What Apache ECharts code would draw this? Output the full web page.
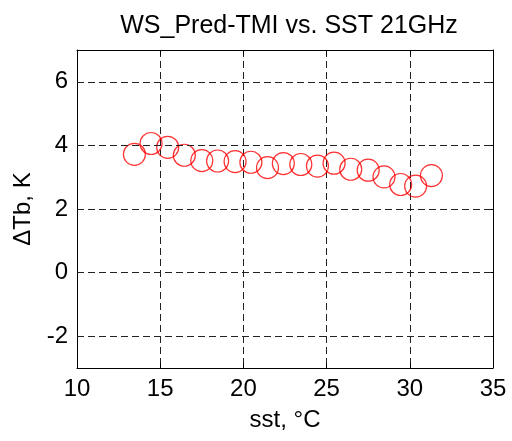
<!DOCTYPE html>
<html>
<head>
<meta charset="utf-8">
<script src="https://cdn.jsdelivr.net/npm/echarts@6/dist/echarts.min.js"></script>
<style>
html, body { margin: 0; padding: 0; background: #fff; }
#main { width: 512px; height: 441px; }
</style>
</head>
<body>
<div id="main"></div>
<script>
// sst (°C) and delta Tb (K)
var sstValues = [13.45, 14.45, 15.45, 16.45, 17.5, 18.45, 19.5, 20.45, 21.45, 22.4, 23.45, 24.45, 25.45, 26.45, 27.5, 28.45, 29.45, 30.35, 31.3];
var dTbValues = [3.72, 4.06, 3.94, 3.69, 3.52, 3.51, 3.49, 3.47, 3.30, 3.43, 3.40, 3.35, 3.44, 3.25, 3.22, 3.01, 2.77, 2.72, 3.05];
var xTicks = [10, 15, 20, 25, 30, 35];
var yTicks = [-2, 0, 2, 4, 6];

var points = [];
for (var i = 0; i < sstValues.length; i++) {
    points.push([sstValues[i], dTbValues[i]]);
}

var font = 'Liberation Sans, Arial, sans-serif';
var dash = [7, 4];
var gridColor = '#222';
var chart = echarts.init(document.getElementById('main'));

// horizontal grid lines at the y ticks (y axis starts at -3, so no interval ticks)
var yGrid = [];
for (var j = 0; j < yTicks.length; j++) {
    yGrid.push({ yAxis: yTicks[j] });
}

var option = {
    animation: false,
    backgroundColor: '#fff',
    title: {
        text: 'WS_Pred-TMI vs. SST 21GHz',
        left: 284,
        textAlign: 'center',
        top: 9,
        textStyle: { fontFamily: font, fontSize: 25, fontWeight: 'normal', color: '#000' }
    },
    grid: { left: 77, right: 19, top: 50, bottom: 73 },
    xAxis: [
        {
            type: 'value',
            min: 10, max: 35, interval: 5,
            name: 'sst, \u00b0C',
            nameLocation: 'middle',
            nameGap: 40,
            nameTextStyle: { fontFamily: font, fontSize: 24, color: '#000' },
            axisLine: { show: true, onZero: false, lineStyle: { color: '#000', width: 1 } },
            axisTick: { show: true, inside: true, length: 5, lineStyle: { color: '#000' } },
            axisLabel: { fontFamily: font, fontSize: 24, color: '#000', margin: 9 },
            splitLine: { show: true, lineStyle: { color: gridColor, type: dash, width: 1 } }
        },
        {
            type: 'value',
            position: 'top',
            min: 10, max: 35, interval: 5,
            axisLine: { show: true, onZero: false, lineStyle: { color: '#000', width: 1 } },
            axisTick: { show: true, inside: true, length: 5, lineStyle: { color: '#000' } },
            axisLabel: { show: false },
            splitLine: { show: false }
        }
    ],
    yAxis: [
        {
            type: 'value',
            min: -3, max: 7,
            name: '\u0394Tb, K',
            nameLocation: 'middle',
            nameGap: 42,
            nameTextStyle: { fontFamily: font, fontSize: 24, color: '#000' },
            axisLine: { show: true, onZero: false, lineStyle: { color: '#000', width: 1 } },
            axisTick: { show: true, inside: true, length: 5, customValues: yTicks, lineStyle: { color: '#000' } },
            axisLabel: { fontFamily: font, fontSize: 24, color: '#000', margin: 9, customValues: yTicks },
            splitLine: { show: false }
        },
        {
            type: 'value',
            position: 'right',
            min: -3, max: 7,
            axisLine: { show: true, onZero: false, lineStyle: { color: '#000', width: 1 } },
            axisTick: { show: true, inside: true, length: 5, customValues: yTicks, lineStyle: { color: '#000' } },
            axisLabel: { show: false },
            splitLine: { show: false }
        }
    ],
    series: [
        {
            type: 'scatter',
            data: points,
            symbol: 'circle',
            symbolSize: 22,
            itemStyle: { color: 'rgba(0,0,0,0)', borderColor: '#ff0000', borderWidth: 1.2 },
            markLine: {
                silent: true,
                symbol: 'none',
                label: { show: false },
                lineStyle: { color: gridColor, type: dash, width: 1 },
                data: yGrid
            },
            z: 3
        }
    ]
};

chart.setOption(option);
</script>
</body>
</html>
